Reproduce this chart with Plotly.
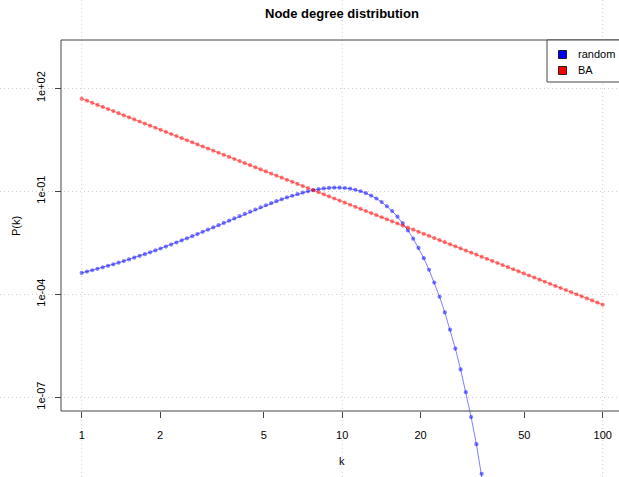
import plotly.graph_objects as go

# ---------------- data ----------------
k = [1.0, 1.0476, 1.0975, 1.1498, 1.2045, 1.2619, 1.3219, 1.3849, 1.4508, 1.5199,
     1.5923, 1.6681, 1.7475, 1.8307, 1.9179, 2.0092, 2.1049, 2.2051, 2.3101, 2.4201,
     2.5354, 2.6561, 2.7826, 2.9151, 3.0539, 3.1993, 3.3516, 3.5112, 3.6784, 3.8535,
     4.0370, 4.2292, 4.4306, 4.6416, 4.8626, 5.0941, 5.3367, 5.5908, 5.8570, 6.1359,
     6.4281, 6.7342, 7.0548, 7.3907, 7.7426, 8.1113, 8.4975, 8.9022, 9.3260, 9.7701,
     10.235, 10.723, 11.233, 11.768, 12.328, 12.916, 13.530, 14.175, 14.850, 15.557,
     16.298, 17.074, 17.886, 18.738, 19.630, 20.565, 21.544, 22.570, 23.645, 24.771,
     25.950, 27.186, 28.480, 29.836, 31.257, 32.745, 34.305, 35.938, 37.649, 39.442,
     41.320, 43.288, 45.349, 47.508, 49.770, 52.140, 54.623, 57.224, 59.948, 62.803,
     65.793, 68.926, 72.208, 75.646, 79.248, 83.022, 86.975, 91.116, 95.455, 100.0]

random_p = [4.186e-4, 4.581e-4, 5.024e-4, 5.526e-4, 6.094e-4, 6.741e-4, 7.477e-4, 8.317e-4, 9.278e-4, 1.0380e-3,
            1.1647e-3, 1.3104e-3, 1.4786e-3, 1.6730e-3, 1.8981e-3, 2.1592e-3, 2.4627e-3, 2.8158e-3, 3.2275e-3, 3.7080e-3,
            4.2692e-3, 4.9255e-3, 5.6931e-3, 6.5915e-3, 7.6428e-3, 8.8727e-3, 1.0310e-2, 1.1989e-2, 1.3947e-2, 1.6223e-2,
            1.8865e-2, 2.1918e-2, 2.5433e-2, 2.9458e-2, 3.4041e-2, 3.9220e-2, 4.5023e-2, 5.1463e-2, 5.8522e-2, 6.6155e-2,
            7.4270e-2, 8.2728e-2, 9.1330e-2, 9.9815e-2, 0.10786, 0.11509, 0.12107, 0.12539, 0.12764, 0.12746,
            0.12462, 0.11906, 0.11090, 0.10048, 8.8309e-2, 7.5092e-2, 6.1595e-2, 4.8584e-2, 3.6725e-2, 2.6509e-2,
            1.8202e-2, 1.1839e-2, 7.2629e-3, 4.1824e-3, 2.2495e-3, 1.1239e-3, 5.1863e-4, 2.1970e-4, 8.4871e-5, 2.9691e-5,
            9.3367e-6, 2.6176e-6, 6.4907e-7, 1.4100e-7, 2.6578e-8, 4.3023e-9, 5.9160e-10, 6.8296e-11, 6.5370e-12]

ba_p = [50.0, 43.487, 37.823, 32.897, 28.612, 24.885, 21.644, 18.825, 16.373, 14.240,
        12.385, 10.772, 9.3691, 8.1488, 7.0874, 6.1642, 5.3613, 4.6630, 4.0557, 3.5274,
        3.0680, 2.6684, 2.3208, 2.0185, 1.7556, 1.5269, 1.3280, 1.1551, 1.0046, 0.87376,
        0.75996, 0.66097, 0.57488, 0.5, 0.43487, 0.37823, 0.32897, 0.28612, 0.24885, 0.21644,
        0.18825, 0.16373, 0.14240, 0.12385, 0.10772, 0.093691, 0.081488, 0.070874, 0.061642, 0.053613,
        0.046630, 0.040557, 0.035274, 0.030680, 0.026684, 0.023208, 0.020185, 0.017556, 0.015269, 0.013280,
        0.011551, 0.010046, 0.0087376, 0.0075996, 0.0066097, 0.0057488, 0.005, 0.0043487, 0.0037823, 0.0032897,
        0.0028612, 0.0024885, 0.0021644, 0.0018825, 0.0016373, 0.0014240, 0.0012385, 0.0010772, 9.3691e-4, 8.1488e-4,
        7.0874e-4, 6.1642e-4, 5.3613e-4, 4.6630e-4, 4.0557e-4, 3.5274e-4, 3.0680e-4, 2.6684e-4, 2.3208e-4, 2.0185e-4,
        1.7556e-4, 1.5269e-4, 1.3280e-4, 1.1551e-4, 1.0046e-4, 8.7376e-5, 7.5996e-5, 6.6097e-5, 5.7488e-5, 5.0e-5]

series_names = ["random", "BA"]
series_colors = ["#0000ff", "#ff0000"]
x_tick_vals = [1, 2, 5, 10, 20, 50, 100]
x_tick_text = ["1", "2", "5", "10", "20", "50", "100"]
x_grid_vals = [1, 10, 100]
y_tick_vals = [1e2, 1e-1, 1e-4, 1e-7]
y_tick_text = ["1e+02", "1e-01", "1e-04", "1e-07"]
title_text = "Node degree distribution"
x_title = "k"
y_title = "P(k)"

# ---------------- layout geometry (pixels) ----------------
W, H = 619, 477
BOX_L, BOX_T, BOX_B = 61, 40, 411
X_ORIGIN, X_PX_DEC = 81.7, 260.5      # pixel of k=1, pixels per decade
Y_AT_100, Y_PX_DEC = 88.3, 34.333     # pixel of P=1e2, pixels per decade


def px(x):
    return x / W


def py(y):
    return 1 - y / H


x_range = [(0 - X_ORIGIN) / X_PX_DEC, (W - X_ORIGIN) / X_PX_DEC]
y_range = [2 - (H - Y_AT_100) / Y_PX_DEC, 2 + Y_AT_100 / Y_PX_DEC]

FONT = "Liberation Sans, Arial, Helvetica, sans-serif"
AX_COL = "#444444"
GRID_COL = "#d0d0d0"

fig = go.Figure()

series = [(k[:len(random_p)], random_p), (k, ba_p)]
for (xs, ys), name, col in zip(series, series_names, series_colors):
    r, g, b = int(col[1:3], 16), int(col[3:5], 16), int(col[5:7], 16)
    rgba = f"rgba({r},{g},{b},0.5)"
    fig.add_trace(go.Scatter(
        x=xs, y=ys, name=name, mode="lines+markers",
        line=dict(color=rgba, width=1),
        marker=dict(size=4.2, color=rgba, line=dict(width=0)),
        showlegend=False,
    ))

shapes = []
# vertical dotted grid lines spanning the whole figure
for v in x_grid_vals:
    shapes.append(dict(type="line", xref="x", yref="paper", x0=v, x1=v, y0=0, y1=1,
                       line=dict(color=GRID_COL, width=1, dash="1px,3px"), layer="below"))
# plot box (right edge lies outside the picture)
shapes += [
    dict(type="line", xref="paper", yref="paper", x0=px(BOX_L), x1=px(BOX_L), y0=py(BOX_T), y1=py(BOX_B),
         line=dict(color=AX_COL, width=1)),
    dict(type="line", xref="paper", yref="paper", x0=px(BOX_L), x1=1.02, y0=py(BOX_T), y1=py(BOX_T),
         line=dict(color=AX_COL, width=1)),
    dict(type="line", xref="paper", yref="paper", x0=px(BOX_L), x1=1.02, y0=py(BOX_B), y1=py(BOX_B),
         line=dict(color=AX_COL, width=1)),
]
# legend box
LEG_L, LEG_B = 547, 82
shapes.append(dict(type="rect", xref="paper", yref="paper", x0=px(LEG_L), x1=1.05, y0=py(BOX_T), y1=py(LEG_B),
                   fillcolor="white", line=dict(color=AX_COL, width=1), layer="above"))
annotations = []
for idx, (name, col) in enumerate(zip(series_names, series_colors)):
    cy = 54.5 + 16 * idx
    shapes.append(dict(type="rect", xref="paper", yref="paper",
                       x0=px(558.5), x1=px(566.5), y0=py(cy - 4), y1=py(cy + 4),
                       fillcolor=col, line=dict(color="black", width=0.8), layer="above"))
    annotations.append(dict(text=name, xref="paper", yref="paper", x=px(576), y=py(cy),
                            xanchor="left", yanchor="middle", showarrow=False,
                            font=dict(family=FONT, size=11, color="black")))

annotations += [
    dict(text="<b>" + title_text + "</b>", xref="paper", yref="paper", x=px(342), y=py(14),
         xanchor="center", yanchor="middle", showarrow=False,
         font=dict(family=FONT, size=13, color="black")),
    dict(text=x_title, xref="paper", yref="paper", x=px(342), y=py(461),
         xanchor="center", yanchor="middle", showarrow=False,
         font=dict(family=FONT, size=11, color="black")),
    dict(text=y_title, xref="paper", yref="paper", x=px(16), y=py(226), textangle=-90,
         xanchor="center", yanchor="middle", showarrow=False,
         font=dict(family=FONT, size=11, color="black")),
]

fig.update_layout(
    width=W, height=H, autosize=False,
    margin=dict(l=0, r=0, t=0, b=0, pad=0),
    paper_bgcolor="white", plot_bgcolor="white",
    font=dict(family=FONT, size=11, color="black"),
    showlegend=False,
    xaxis=dict(type="log", range=x_range, domain=[0, 1], anchor="free", position=py(BOX_B),
               tickmode="array", tickvals=x_tick_vals, ticktext=x_tick_text,
               ticks="outside", ticklen=6, tickwidth=1, tickcolor=AX_COL,
               showgrid=False, zeroline=False, showline=False,
               ticklabelstandoff=8, tickfont=dict(family=FONT, size=11, color="black")),
    yaxis=dict(type="log", range=y_range, domain=[0, 1], anchor="free", position=px(BOX_L),
               tickmode="array", tickvals=y_tick_vals, ticktext=y_tick_text, tickangle=-90,
               ticks="outside", ticklen=6, tickwidth=1, tickcolor=AX_COL,
               showgrid=True, gridcolor=GRID_COL, griddash="1px,3px", gridwidth=1,
               zeroline=False, showline=False,
               ticklabelstandoff=6, tickfont=dict(family=FONT, size=11, color="black")),
    shapes=shapes,
    annotations=annotations,
)

fig.write_html("out.html", config={"displayModeBar": False},
               post_script="document.body.style.margin='0';document.body.style.overflow='hidden';")
